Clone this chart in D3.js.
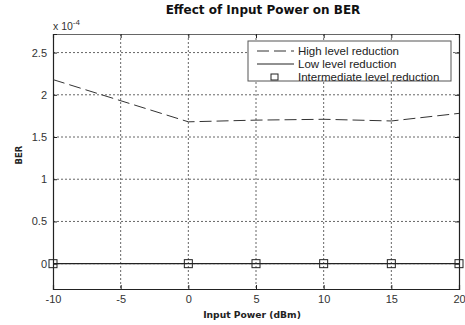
<!DOCTYPE html>
<html>
<head>
<meta charset="utf-8">
<script src="https://cdn.jsdelivr.net/npm/d3@7"></script>
<style>
  body { margin: 0; background: #fff; }
</style>
</head>
<body>
<div id="chart"></div>
<script>
// data (BER in units of 1e-4)
const inputPower = [-10, 0, 5, 10, 15, 20];
const highLevel = [2.18, 1.68, 1.70, 1.71, 1.69, 1.78];
const lowLevel = [0, 0, 0, 0, 0, 0];
const intermediateLevel = [0, 0, 0, 0, 0, 0];
const xTicks = [-10, -5, 0, 5, 10, 15, 20];
const yTicks = [0, 0.5, 1, 1.5, 2, 2.5];
const legendLabels = ['High level reduction', 'Low level reduction', 'Intermediate level reduction'];

const width = 465, height = 325;
const margin = { top: 34, right: 6, bottom: 36, left: 53 };
const plainFont = 'Arial, "Liberation Sans", sans-serif';
const boldFont = '"DejaVu Sans", Verdana, sans-serif';

const svg = d3.select('#chart')
  .append('svg')
  .attr('width', width)
  .attr('height', height);

const x = d3.scaleLinear().domain([-10, 20]).range([margin.left, width - margin.right]);
const y = d3.scaleLinear().domain([-0.3, 2.72]).range([height - margin.bottom, margin.top]);

// grid
const grid = svg.append('g');
grid.selectAll('.gx')
  .data(xTicks.slice(1, -1))
  .join('line')
  .attr('x1', d => x(d)).attr('x2', d => x(d))
  .attr('y1', margin.top).attr('y2', height - margin.bottom)
  .attr('stroke', '#666').attr('stroke-width', 1)
  .attr('stroke-dasharray', '2,2');
grid.selectAll('.gy')
  .data(yTicks)
  .join('line')
  .attr('x1', margin.left).attr('x2', width - margin.right)
  .attr('y1', d => y(d)).attr('y2', d => y(d))
  .attr('stroke', '#666').attr('stroke-width', 1)
  .attr('stroke-dasharray', '2,2');

// axes
const xAxis = svg.append('g')
  .attr('transform', `translate(0,${height - margin.bottom})`)
  .call(d3.axisBottom(x).tickValues(xTicks).tickSize(-4).tickPadding(6).tickFormat(d => String(d)));
const xAxisTop = svg.append('g')
  .attr('transform', `translate(0,${margin.top})`)
  .call(d3.axisTop(x).tickValues(xTicks).tickSize(-4).tickFormat(''));
const yAxis = svg.append('g')
  .attr('transform', `translate(${margin.left},0)`)
  .call(d3.axisLeft(y).tickValues(yTicks).tickSize(-4).tickPadding(6).tickFormat(d => String(d)));
const yAxisRight = svg.append('g')
  .attr('transform', `translate(${width - margin.right},0)`)
  .call(d3.axisRight(y).tickValues(yTicks).tickSize(-4).tickFormat(''));

[xAxis, xAxisTop, yAxis, yAxisRight].forEach(a => {
  a.select('.domain').attr('stroke', '#222').attr('stroke-width', 1.2);
  a.selectAll('.tick line').attr('stroke', '#222');
  a.selectAll('text').attr('fill', '#333')
    .style('font-size', '11px')
    .style('font-family', plainFont);
});
xAxisTop.select('.domain').attr('stroke', '#666');

// exponent label
const expo = svg.append('text')
  .attr('x', margin.left).attr('y', 30)
  .style('font-family', plainFont).style('font-size', '10.5px')
  .attr('fill', '#333');
expo.append('tspan').text('x 10');
expo.append('tspan').attr('dy', -5).style('font-size', '8px').text('-4');

// series
const line = d3.line().x((d, i) => x(inputPower[i])).y(d => y(d));

svg.append('path')
  .datum(highLevel)
  .attr('d', line)
  .attr('fill', 'none')
  .attr('stroke', '#333')
  .attr('stroke-width', 1)
  .attr('stroke-dasharray', '12,5');

svg.append('path')
  .datum(lowLevel)
  .attr('d', line)
  .attr('fill', 'none')
  .attr('stroke', '#222')
  .attr('stroke-width', 1.2);

svg.selectAll('.sq')
  .data(intermediateLevel)
  .join('rect')
  .attr('x', (d, i) => x(inputPower[i]) - 4)
  .attr('y', d => y(d) - 4)
  .attr('width', 8).attr('height', 8)
  .attr('fill', 'none')
  .attr('stroke', '#222')
  .attr('stroke-width', 1);

// legend
const lg = svg.append('g');
lg.append('rect')
  .attr('x', 248).attr('y', 41)
  .attr('width', 203).attr('height', 40)
  .attr('fill', '#fff').attr('stroke', '#555').attr('stroke-width', 1);
const rowY = [51, 64, 77];
lg.append('line')
  .attr('x1', 257).attr('x2', 294).attr('y1', rowY[0]).attr('y2', rowY[0])
  .attr('stroke', '#333').attr('stroke-dasharray', '12,5');
lg.append('line')
  .attr('x1', 257).attr('x2', 294).attr('y1', rowY[1]).attr('y2', rowY[1])
  .attr('stroke', '#222');
lg.append('rect')
  .attr('x', 271).attr('y', rowY[2] - 3).attr('width', 7).attr('height', 6)
  .attr('fill', 'none').attr('stroke', '#222');
lg.selectAll('.lt')
  .data(legendLabels)
  .join('text')
  .attr('x', 298).attr('y', (d, i) => rowY[i] + 4)
  .style('font-family', plainFont).style('font-size', '11.5px')
  .attr('fill', '#222')
  .text(d => d);

// titles
svg.append('text')
  .attr('x', 263).attr('y', 14)
  .attr('text-anchor', 'middle')
  .style('font-family', boldFont).style('font-weight', 'bold').style('font-size', '12px')
  .attr('fill', '#111')
  .text('Effect of Input Power on BER');

svg.append('text')
  .attr('x', 252).attr('y', 318)
  .attr('text-anchor', 'middle')
  .style('font-family', boldFont).style('font-weight', 'bold').style('font-size', '9.2px')
  .attr('fill', '#222')
  .text('Input Power (dBm)');

svg.append('text')
  .attr('transform', 'translate(22,155) rotate(-90)')
  .attr('text-anchor', 'middle')
  .style('font-family', boldFont).style('font-weight', 'bold').style('font-size', '8.5px')
  .attr('fill', '#222')
  .text('BER');
</script>
</body>
</html>
